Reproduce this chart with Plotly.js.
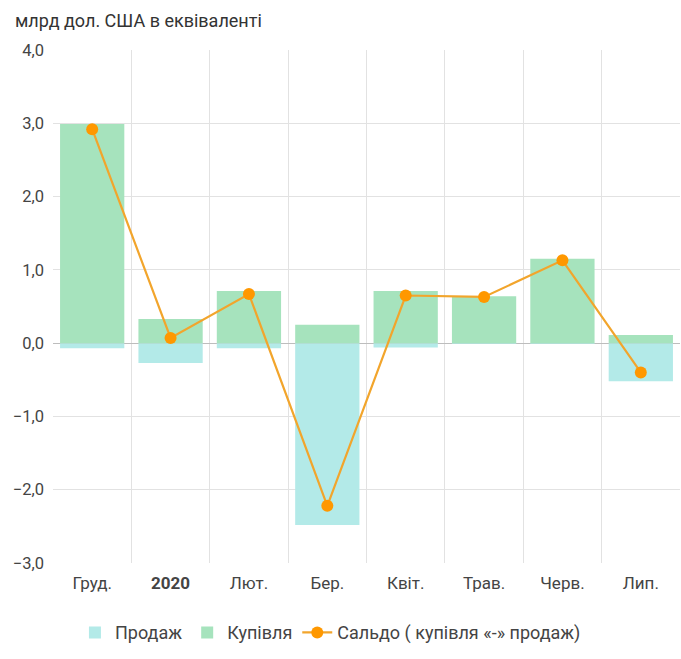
<!DOCTYPE html>
<html>
<head>
<meta charset="utf-8">
<script src="https://cdn.plot.ly/plotly-3.0.1.min.js"></script>
<style>html,body{margin:0;padding:0;background:#fff;}#chart{width:681px;height:659px;}</style>
</head>
<body>
<div id="chart"></div>
<script>
const categories = ['Груд.', '<b>2020</b>', 'Лют.', 'Бер.', 'Квіт.', 'Трав.', 'Черв.', 'Лип.'];
const sales = [-0.07, -0.27, -0.07, -2.48, -0.06, -0.01, -0.01, -0.52];
const purchases = [2.99, 0.33, 0.71, 0.25, 0.71, 0.64, 1.15, 0.11];
const balance = [2.92, 0.07, 0.67, -2.22, 0.65, 0.63, 1.13, -0.40];
const yTicks = [-3, -2, -1, 0, 1, 2, 3, 4];

const traces = [
  {type: 'bar', name: 'Продаж', x: categories, y: sales, width: 0.82,
   marker: {color: '#b3eae8'}},
  {type: 'bar', name: 'Купівля', x: categories, y: purchases, width: 0.82,
   marker: {color: '#a6e3bd'}},
  {type: 'scatter', mode: 'lines+markers', name: 'Сальдо ( купівля «-» продаж)',
   x: categories, y: balance,
   line: {color: '#f2a52c', width: 2.2},
   marker: {color: '#ff9800', size: 12}}
];

const layout = {
  width: 681, height: 659,
  margin: {l: 53, r: 1, t: 50, b: 96},
  paper_bgcolor: '#fff', plot_bgcolor: '#fff',
  font: {family: 'Roboto, sans-serif', size: 17, color: '#444'},
  separators: ', ',
  barmode: 'overlay',
  showlegend: true,
  title: {text: 'млрд дол. США в еквіваленті', x: 0.022, xanchor: 'left', y: 0.968, yanchor: 'middle',
          font: {family: 'Roboto, sans-serif', size: 18, color: '#333'}},
  xaxis: {type: 'category', tickson: 'boundaries', showgrid: true, gridcolor: '#e2e2e2',
          ticks: '', ticklen: 0, ticklabelstandoff: 8, tickfont: {size: 17, color: '#444'},
          showline: false, zeroline: false},
  yaxis: {range: [-3, 4], tickvals: yTicks, tickformat: '.1f', showgrid: true, gridcolor: '#e2e2e2',
          zeroline: true, zerolinecolor: '#bdbdbd', zerolinewidth: 1, ticks: '', ticklabelstandoff: 8,
          tickfont: {size: 16.5, color: '#444'}, showline: false, fixedrange: true},
  legend: {orientation: 'h', x: 0.035, xanchor: 'left', y: -0.136, yanchor: 'middle',
           font: {size: 18, color: '#444'}, traceorder: 'normal', itemwidth: 30}
};

Plotly.newPlot('chart', traces, layout, {displayModeBar: false, staticPlot: true});
</script>
</body>
</html>
